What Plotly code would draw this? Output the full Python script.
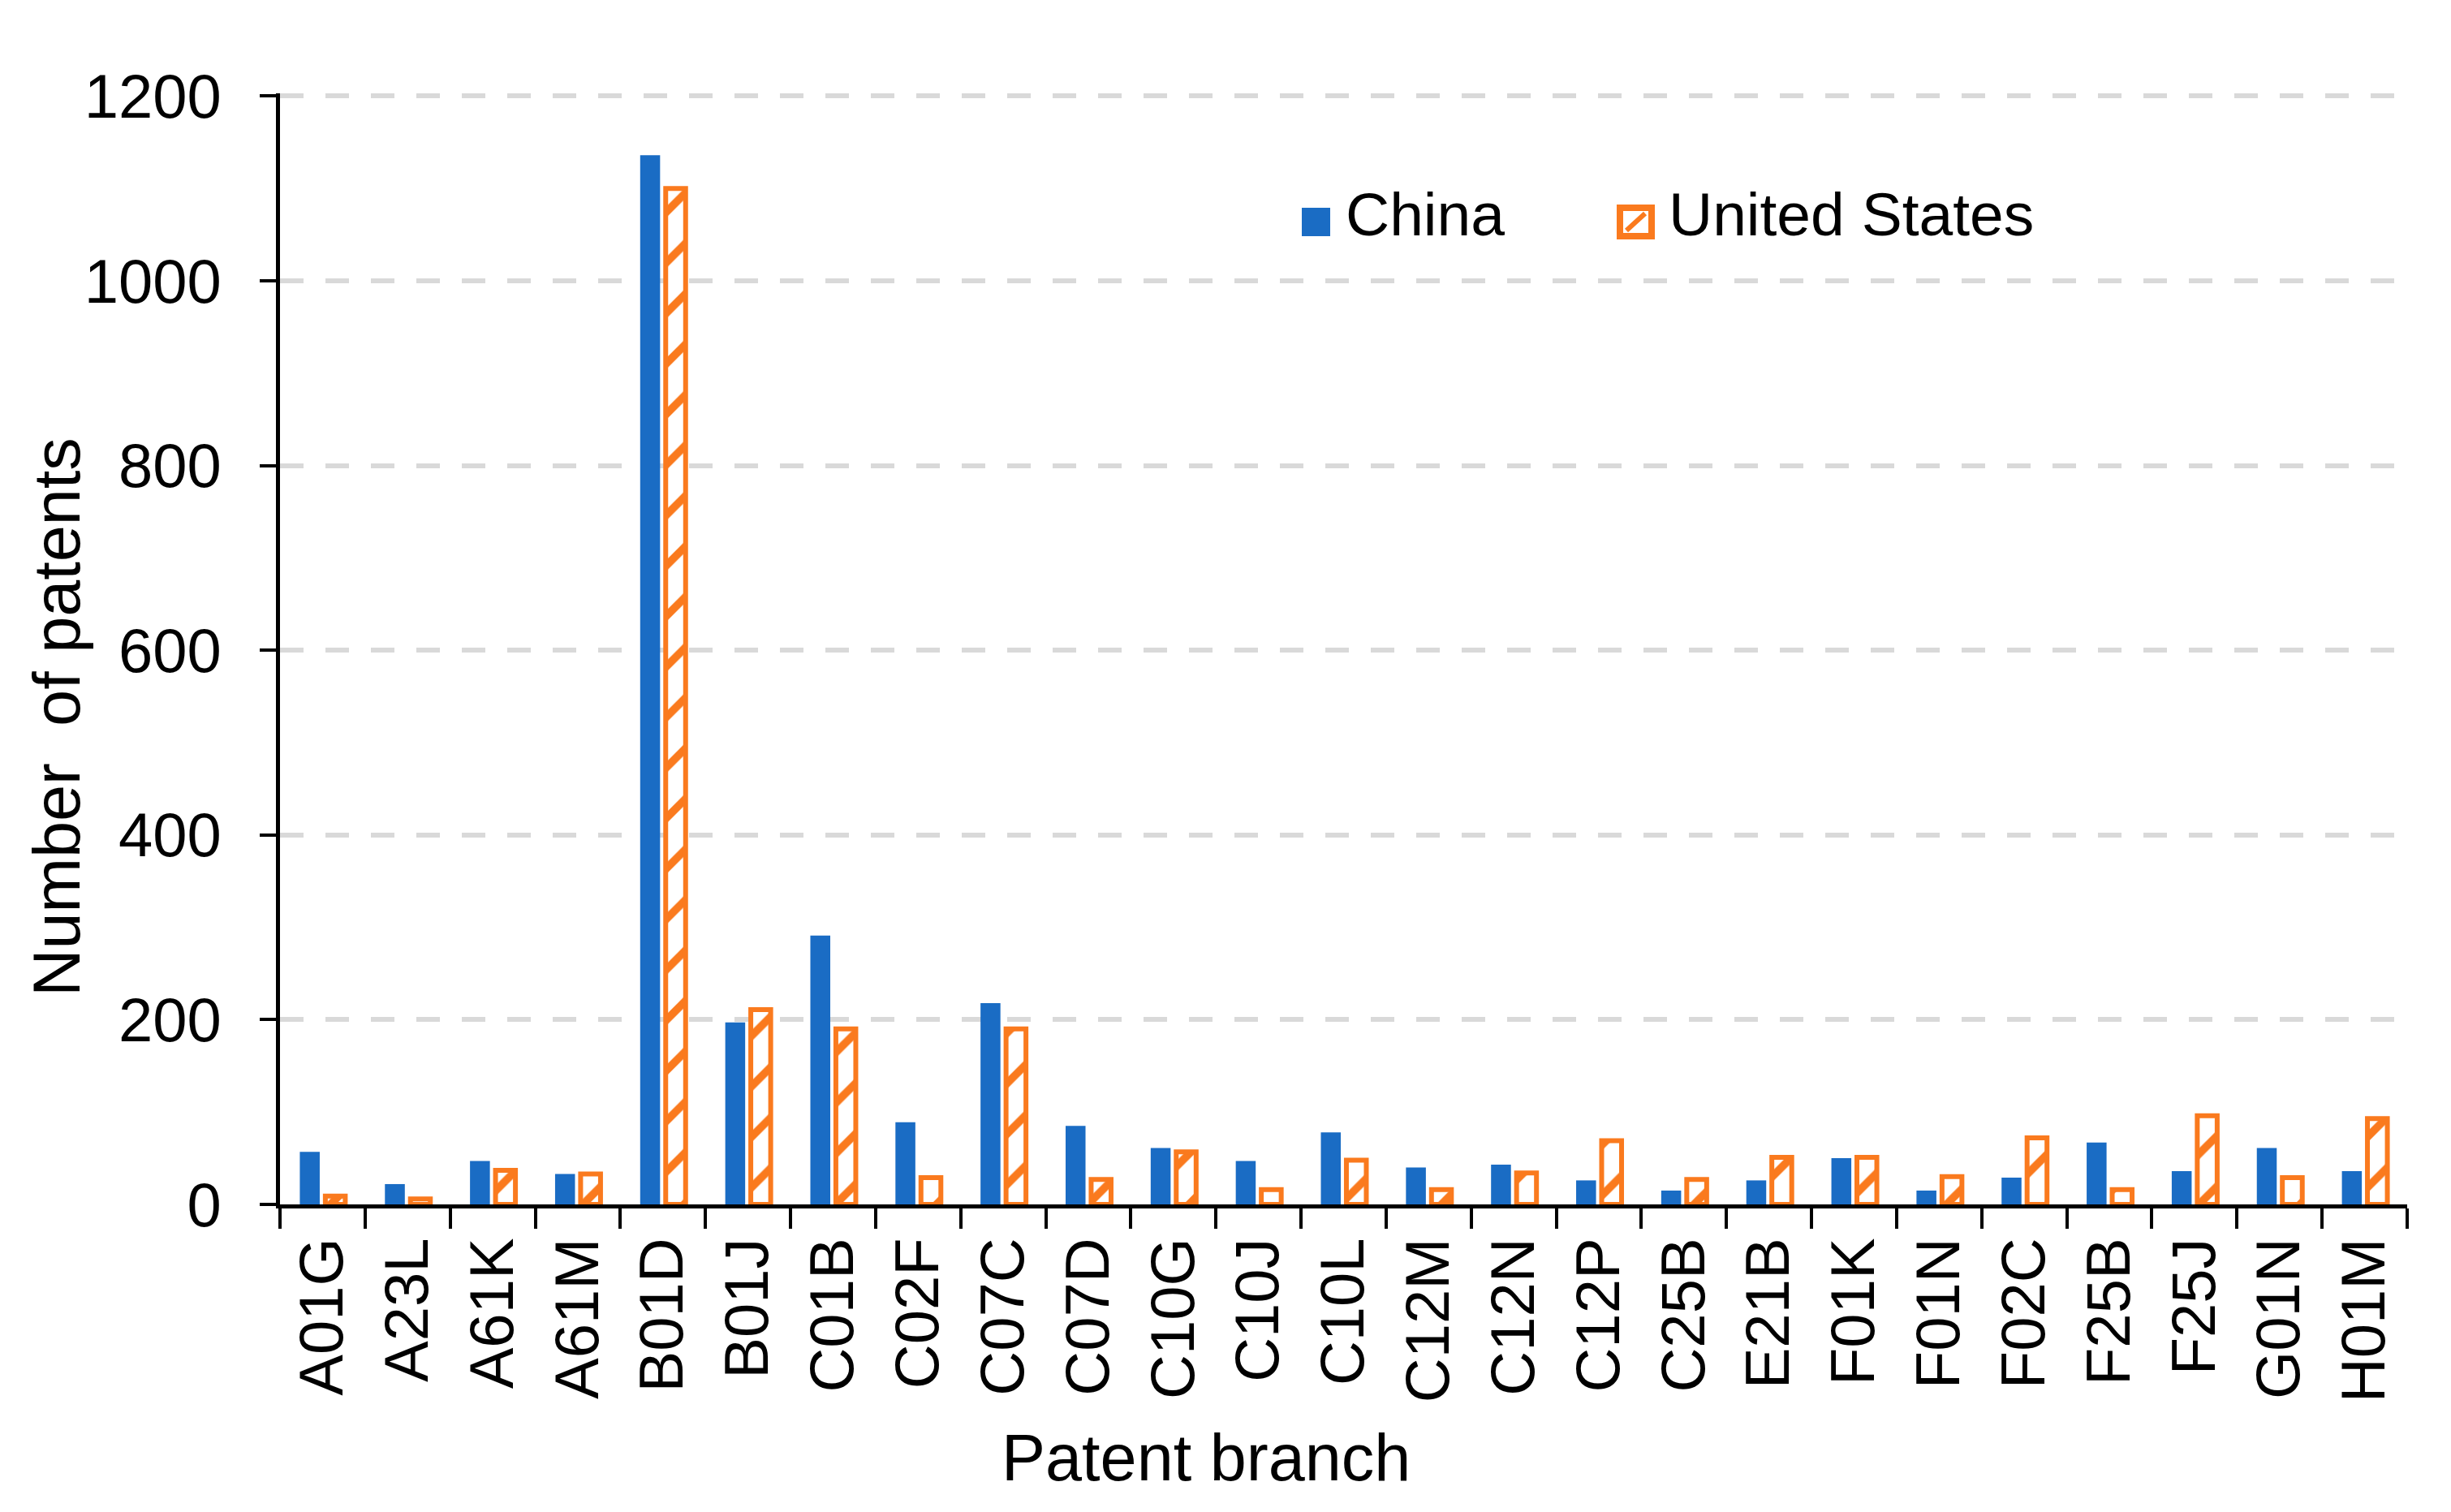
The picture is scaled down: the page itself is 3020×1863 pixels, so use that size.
import plotly.graph_objects as go

categories = ["A01G", "A23L", "A61K", "A61M", "B01D", "B01J", "C01B", "C02F", "C07C",
              "C07D", "C10G", "C10J", "C10L", "C12M", "C12N", "C12P", "C25B", "E21B",
              "F01K", "F01N", "F02C", "F25B", "F25J", "G01N", "H01M"]
china = [57, 22, 47, 33, 1136, 197, 291, 89, 218,
         85, 61, 47, 78, 40, 43, 26, 15, 26,
         50, 15, 29, 67, 36, 61, 36]
united_states = [9, 6, 37, 33, 1100, 211, 190, 29, 190,
                 27, 57, 16, 48, 16, 34, 69, 27, 51,
                 51, 30, 72, 16, 96, 29, 93]
y_ticks = [0, 200, 400, 600, 800, 1000, 1200]
series_names = ["China", "United States"]
x_title = "Patent branch"
y_title = "Number&nbsp; of patents"

BLUE = "#1A6CC4"
ORANGE = "#FA7A1E"
FONT = "Liberation Sans, Arial, sans-serif"

W, H = 3020, 1863
L, R, T, B = 337, 62, 107, 387
PW, PH = W - L - R, H - T - B


def px(x):
    return (x - L) / PW


def py(y):
    return (H - B - y) / PH


fig = go.Figure()
fig.add_trace(go.Bar(
    x=categories, y=china, name=series_names[0],
    marker=dict(color=BLUE, line=dict(width=0)),
    showlegend=False,
))
fig.add_trace(go.Bar(
    x=categories, y=united_states, name=series_names[1],
    marker=dict(
        color="white",
        line=dict(color=ORANGE, width=6),
        pattern=dict(shape="/", fgcolor=ORANGE, bgcolor="white",
                     size=44, solidity=0.22, fillmode="replace"),
    ),
    showlegend=False,
))

# legend drawn as swatches + text
shapes = [
    dict(type="rect", xref="paper", yref="paper",
         x0=px(1596), x1=px(1631), y0=py(283), y1=py(248),
         fillcolor=BLUE, line=dict(width=0)),
    dict(type="rect", xref="paper", yref="paper",
         x0=px(1988), x1=px(2027), y0=py(283), y1=py(248),
         fillcolor="white", line=dict(color=ORANGE, width=8)),
    dict(type="line", xref="paper", yref="paper",
         x0=px(1996), x1=px(2019), y0=py(276), y1=py(255),
         line=dict(color=ORANGE, width=6)),
]
legend_font = dict(family=FONT, size=75, color="black")
title_font = dict(family=FONT, size=81, color="black")
annotations = [
    dict(text=series_names[0], xref="paper", yref="paper", x=px(1648), y=py(256),
         xanchor="left", yanchor="middle", showarrow=False, font=legend_font),
    dict(text=series_names[1], xref="paper", yref="paper", x=px(2046), y=py(256),
         xanchor="left", yanchor="middle", showarrow=False, font=legend_font),
    dict(text=x_title, xref="paper", yref="paper", x=px(1478), y=py(1788),
         xanchor="center", yanchor="middle", showarrow=False, font=title_font),
    dict(text=y_title, xref="paper", yref="paper", x=px(62), y=py(876),
         xanchor="center", yanchor="middle", showarrow=False, textangle=-90,
         font=title_font),
]

fig.update_layout(
    width=W, height=H,
    margin=dict(l=L, r=R, t=T, b=B, pad=0),
    paper_bgcolor="white", plot_bgcolor="white",
    barmode="group", bargap=0.40, bargroupgap=0.22,
    font=dict(family=FONT, color="black"),
    shapes=shapes, annotations=annotations,
    showlegend=False,
)
fig.update_xaxes(
    type="category",
    showline=True, linecolor="black", linewidth=5,
    ticks="outside", tickson="boundaries", ticklen=25, tickwidth=4, tickcolor="black",
    tickangle=-90, tickfont=dict(family=FONT, size=76, color="black"),
    ticklabelstandoff=6,
    showgrid=False,
)
fig.update_yaxes(
    range=[0, 1203], tickvals=y_ticks,
    showline=True, linecolor="black", linewidth=5,
    ticks="outside", ticklen=20, tickwidth=4, tickcolor="black",
    tickfont=dict(family=FONT, size=76, color="black"),
    ticklabelstandoff=32,
    showgrid=True, gridcolor="#d9d9d9", gridwidth=6, griddash="29px,27px",
    zeroline=False,
)

fig.write_html("out.html")
